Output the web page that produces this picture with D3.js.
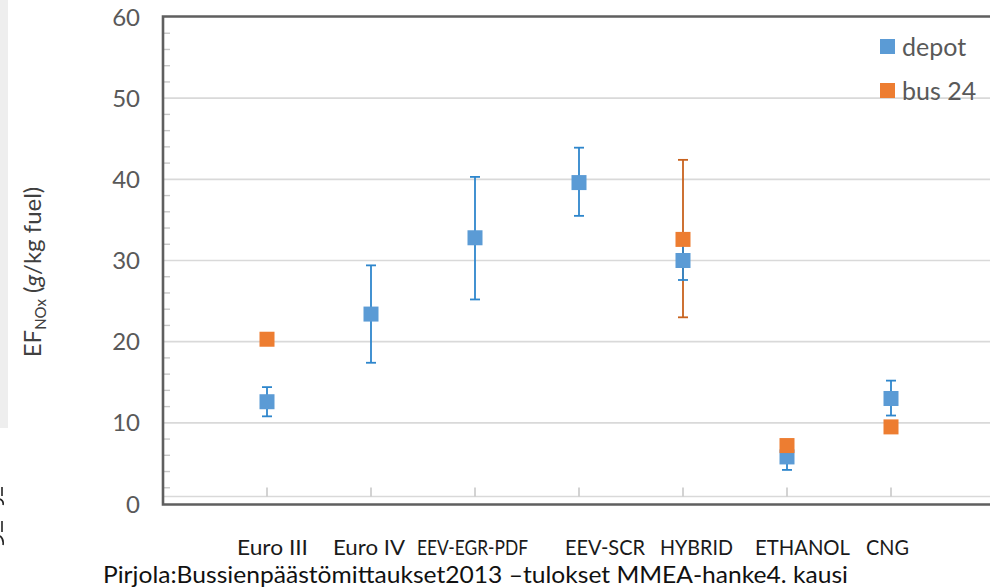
<!DOCTYPE html>
<html>
<head>
<meta charset="utf-8">
<script src="https://cdn.jsdelivr.net/npm/d3@7"></script>
<style>
  html, body { margin: 0; padding: 0; background: #fff; }
  svg { display: block; }
  text { font-family: Lato, "Open Sans", sans-serif; }
</style>
</head>
<body>
<svg id="chart" width="990" height="587"></svg>
<script>
// NOx emission factors per bus type (g/kg fuel)
const categories = ["Euro III", "Euro IV", "EEV-EGR-PDF", "EEV-SCR", "HYBRID", "ETHANOL", "CNG"];
const depot      = [12.6, 23.4, 32.8, 39.6, 30.0, 5.8, 13.0];
const depotLow   = [10.8, 17.4, 25.2, 35.5, 27.6, 4.2, 10.9];
const depotHigh  = [14.4, 29.4, 40.3, 43.9, 32.4, 7.4, 15.2];
const bus24      = [20.3, null, null, null, 32.6, 7.2, 9.5];
const bus24Low   = [null, null, null, null, 23.0, null, null];
const bus24High  = [null, null, null, null, 42.4, null, null];
const yTicks     = [0, 10, 20, 30, 40, 50, 60];
const seriesNames = ["depot", "bus 24"];

const colors = {
  depot: "#5B9BD5", depotErr: "#2E86CC",
  bus: "#ED7D31", busErr: "#C8621E",
  text: "#595959", grid: "#D9D9D9", frame: "#5F5F5F"
};

const svg = d3.select("#chart");
const plotLeft = 163, plotTop = 17, plotBottom = 504, plotRight = 995;

const x = d3.scalePoint().domain(categories).range([plotLeft, plotRight]).padding(1);
const y = d3.scaleLinear().domain([0, 60]).range([plotBottom, plotTop]);

// faint strip at the left edge
svg.append("rect").attr("x", 0).attr("y", 0).attr("width", 8).attr("height", 428)
  .attr("fill", "#EEEEEE");
// clipped glyph fragments along the left edge
svg.append("g").attr("stroke", "#222").attr("stroke-width", 1.6).attr("fill", "none")
  .selectAll("path")
  .data(["M2,487 V496", "M0,499 Q4,501 3,505", "M2,521 V532", "M0,536 Q4,539 3,545"])
  .join("path").attr("d", d => d);

// horizontal gridlines
svg.append("g").selectAll("line")
  .data(yTicks.filter(d => d > 0 && d < 60))
  .join("line")
  .attr("x1", plotLeft).attr("x2", 990)
  .attr("y1", d => y(d)).attr("y2", d => y(d))
  .attr("stroke", colors.grid).attr("stroke-width", 1.6);

// minor ticks on the value axis
svg.append("g").selectAll("line")
  .data(d3.range(2, 60, 2).filter(d => d % 10 !== 0))
  .join("line")
  .attr("x1", plotLeft).attr("x2", plotLeft + 7)
  .attr("y1", d => y(d)).attr("y2", d => y(d))
  .attr("stroke", "#C8C8C8").attr("stroke-width", 1.4);

// category axis line with upward ticks
const catAxisY = plotBottom - 7.5;
svg.append("line").attr("x1", plotLeft).attr("x2", 990)
  .attr("y1", catAxisY).attr("y2", catAxisY)
  .attr("stroke", colors.grid).attr("stroke-width", 1.6);
svg.append("g").selectAll("line")
  .data(categories)
  .join("line")
  .attr("x1", d => x(d)).attr("x2", d => x(d))
  .attr("y1", catAxisY - 9).attr("y2", catAxisY)
  .attr("stroke", "#C8C8C8").attr("stroke-width", 1.6);

// plot frame: left, top, bottom
svg.append("path")
  .attr("d", `M990,${plotTop - 0.5} H${plotLeft} V${plotBottom + 0.5} H990`)
  .attr("fill", "none").attr("stroke", colors.frame).attr("stroke-width", 2.6);

// y tick labels
svg.append("g").selectAll("text")
  .data(yTicks)
  .join("text")
  .attr("x", 140).attr("y", d => y(d))
  .attr("dy", "0.36em")
  .attr("text-anchor", "end")
  .attr("font-size", 24)
  .attr("fill", colors.text)
  .text(d => d);

// y axis title
const yTitle = svg.append("text")
  .attr("transform", "translate(41,272) rotate(-90)")
  .attr("text-anchor", "middle")
  .attr("font-size", 24)
  .attr("fill", "#404040");
yTitle.append("tspan").text("EF");
yTitle.append("tspan").attr("font-size", 15).attr("dy", 5).text("NOx");
yTitle.append("tspan").attr("dy", -5).text(" (");
yTitle.append("tspan").attr("font-style", "italic").text("g");
yTitle.append("tspan").text("/kg fuel)");

// error bars
function errorBars(lo, hi, color) {
  const idx = d3.range(categories.length).filter(i => lo[i] != null && hi[i] != null);
  const g = svg.append("g").attr("stroke", color).attr("stroke-width", 1.8);
  g.selectAll("line.v").data(idx).join("line").attr("class", "v")
    .attr("x1", i => x(categories[i])).attr("x2", i => x(categories[i]))
    .attr("y1", i => y(lo[i])).attr("y2", i => y(hi[i]));
  g.selectAll("line.lo").data(idx).join("line").attr("class", "lo")
    .attr("x1", i => x(categories[i]) - 5).attr("x2", i => x(categories[i]) + 5)
    .attr("y1", i => y(lo[i])).attr("y2", i => y(lo[i]));
  g.selectAll("line.hi").data(idx).join("line").attr("class", "hi")
    .attr("x1", i => x(categories[i]) - 5).attr("x2", i => x(categories[i]) + 5)
    .attr("y1", i => y(hi[i])).attr("y2", i => y(hi[i]));
}
errorBars(bus24Low, bus24High, colors.busErr);
errorBars(depotLow, depotHigh, colors.depotErr);

// square markers
const ms = 15;
function markers(vals, color) {
  const idx = d3.range(categories.length).filter(i => vals[i] != null);
  svg.append("g").selectAll("rect").data(idx).join("rect")
    .attr("x", i => x(categories[i]) - ms / 2)
    .attr("y", i => y(vals[i]) - ms / 2)
    .attr("width", ms).attr("height", ms)
    .attr("fill", color);
}
markers(depot, colors.depot);
markers(bus24, colors.bus);

// legend
const legend = svg.append("g");
[[seriesNames[0], colors.depot], [seriesNames[1], colors.bus]].forEach(([name, c], k) => {
  const ly = 47 + k * 44;
  legend.append("rect").attr("x", 880).attr("y", ly - 8).attr("width", 15).attr("height", 15).attr("fill", c);
  legend.append("text").attr("x", 902).attr("y", ly).attr("dy", "0.36em")
    .attr("font-size", 25).attr("fill", colors.text).text(name);
});

// category labels, set as a line of text under the plot
const labelStart = [237, 333, 417, 565, 660, 755, 866];
const labelWidth = [71, 72, 111, 80, 73, 95, 43];
svg.append("g").selectAll("text")
  .data(categories)
  .join("text")
  .attr("x", (d, i) => labelStart[i])
  .attr("y", 555)
  .attr("font-size", 21)
  .attr("fill", "#1A1A1A")
  .attr("textLength", (d, i) => labelWidth[i])
  .attr("lengthAdjust", "spacingAndGlyphs")
  .text(d => d);

// source line
svg.append("text")
  .attr("x", 103).attr("y", 583)
  .attr("font-size", 23)
  .attr("fill", "#111")
  .attr("textLength", 745)
  .attr("lengthAdjust", "spacingAndGlyphs")
  .text("Pirjola:Bussienpäästömittaukset2013 –tulokset MMEA-hanke4. kausi");
</script>
</body>
</html>
